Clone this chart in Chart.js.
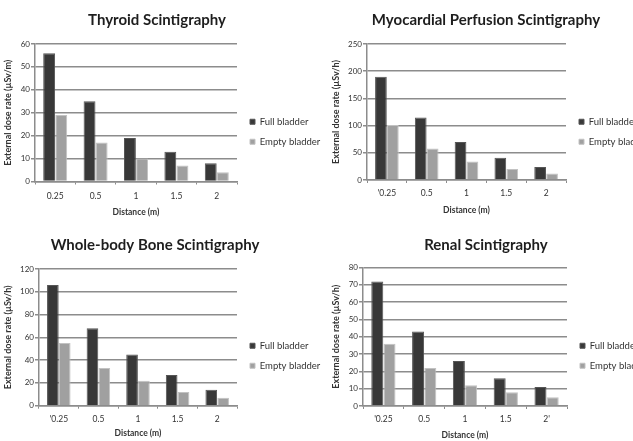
<!DOCTYPE html>
<html><head><meta charset="utf-8">
<script src="https://cdn.jsdelivr.net/npm/chart.js@4.4.1/dist/chart.umd.min.js"></script>
<style>
html,body{margin:0;padding:0;background:#fff;overflow:hidden;width:633px;height:441px;position:relative}
canvas{position:absolute}
</style></head><body>
<canvas id="c1" width="322" height="220" style="left:0;top:0"></canvas>
<canvas id="c2" width="346" height="220" style="left:313px;top:0"></canvas>
<canvas id="c3" width="322" height="221" style="left:0;top:220px"></canvas>
<canvas id="c4" width="346" height="221" style="left:313px;top:220px"></canvas>
<script>
// ---- data ----
const seriesNames = ['Full bladder', 'Empty bladder'];
const thyroidLabels = ['0.25', '0.5', '1', '1.5', '2'];
const myoLabels = ["'0.25", '0.5', '1', '1.5', '2'];
const boneLabels = ["'0.25", '0.5', '1', '1.5', '2'];
const renalLabels = ["'0.25", '0.5', '1', '1.5', "2'"];
const thyroidFull = [56, 35, 19, 13, 8];
const thyroidEmpty = [29, 17, 10, 7, 4];
const myoFull = [190, 115, 70, 41, 24];
const myoEmpty = [101, 58, 34, 20, 12];
const boneFull = [106, 68, 45, 27, 14];
const boneEmpty = [55, 33, 22, 12, 7];
const renalFull = [72, 43, 26, 16, 11];
const renalEmpty = [36, 22, 12, 8, 5];
const titles = ['Thyroid Scintigraphy', 'Myocardial Perfusion Scintigraphy', 'Whole-body Bone Scintigraphy', 'Renal Scintigraphy'];
const yTitles = ['External dose rate (\u00b5Sv/m)', 'External dose rate (\u00b5Sv/h)', 'External dose rate (\u00b5Sv/h)', 'External dose rate (\u00b5Sv/h)'];
const xTitle = 'Distance (m)';

const FONT = 'Lato, "Liberation Sans", sans-serif';
const GRID = '#8c8c8c';

function makeChart(id, cfg) {
  const legendFix = {
    id: 'legendFix',
    beforeLayout(chart) {
      const lg = chart.legend;
      if (lg && !lg._fixed) {
        const f = lg.fit.bind(lg);
        lg.fit = function () { f(); this.width = cfg.legendW; };
        lg._fixed = true;
      }
    },
    afterLayout(chart) {
      const lg = chart.legend;
      const h = lg.bottom - lg.top;
      lg.top = cfg.legendTop;
      lg.bottom = cfg.legendTop + h;
      lg.left += cfg.legendDx;
      lg.right += cfg.legendDx;
      if (chart.titleBlock) {
        chart.titleBlock.right -= cfg.titleTrim;
      }
    }
  };
  return new Chart(document.getElementById(id), {
    type: 'bar',
    data: {
      labels: cfg.labels,
      datasets: [
        { label: seriesNames[0], data: cfg.full, backgroundColor: '#383838', borderColor: '#555555', borderWidth: 1 },
        { label: seriesNames[1], data: cfg.empty, backgroundColor: '#a0a0a0', borderColor: '#c2c2c2', borderWidth: 1 }
      ]
    },
    plugins: [legendFix],
    options: {
      responsive: false,
      animation: false,
      devicePixelRatio: 1,
      layout: { padding: { left: 0, right: 0, top: 0, bottom: 0 } },
      datasets: { bar: { categoryPercentage: 0.6, barPercentage: 0.98 } },
      plugins: {
        title: {
          display: true, text: cfg.title, color: '#1e1e1e',
          font: { family: FONT, size: 15, weight: 'bold' },
          padding: { top: cfg.tPadTop, bottom: cfg.tPadBot }
        },
        legend: {
          position: 'right', align: 'start',
          labels: {
            boxWidth: 5, boxHeight: 5, padding: 10.5, color: '#333',
            font: { family: FONT, size: 9.5 }
          }
        },
        tooltip: { enabled: false }
      },
      scales: {
        x: {
          grid: { display: true, drawOnChartArea: false, tickLength: 3, color: GRID, offset: true },
          border: { display: true, color: GRID, width: 1.5 },
          ticks: { color: '#333', font: { family: FONT, size: 8.5 }, padding: cfg.xTickPad },
          title: { display: true, text: xTitle, color: '#333', font: { family: FONT, size: 8.5, weight: 'bold' }, padding: { top: 0, bottom: cfg.xTitlePad } },
          afterFit(s) { s.height = cfg.xH; }
        },
        y: {
          min: 0, max: cfg.yMax,
          grid: { color: GRID, lineWidth: 1.5, tickLength: 4 },
          border: { display: true, color: GRID, width: 1.5 },
          ticks: { stepSize: cfg.yStep, color: '#333', font: { family: FONT, size: 8 }, padding: 1 },
          title: { display: true, text: cfg.yTitle, color: '#333', font: { family: FONT, size: 9, weight: 'bold' }, padding: { top: cfg.yTitlePad, bottom: 0 } },
          afterFit(s) { s.width = cfg.yW; }
        }
      }
    }
  });
}

makeChart('c1', { labels: thyroidLabels, full: thyroidFull, empty: thyroidEmpty, title: titles[0], yTitle: yTitles[0],
  yMax: 60, yStep: 10, yW: 35, legendW: 85, legendTop: 106.5, legendDx: 2.5, titleTrim: 8, tPadTop: 11, tPadBot: 15,
  xH: 38.5, xTickPad: 7, xTitlePad: 2.5, yTitlePad: 2.5 });
makeChart('c2', { labels: myoLabels, full: myoFull, empty: myoEmpty, title: titles[1], yTitle: yTitles[1],
  yMax: 250, yStep: 50, yW: 54, legendW: 93, legendTop: 106.5, legendDx: 2.5, titleTrim: 0, tPadTop: 11, tPadBot: 15,
  xH: 40, xTickPad: 5, xTitlePad: 4.5, yTitlePad: 17.5 });
makeChart('c3', { labels: boneLabels, full: boneFull, empty: boneEmpty, title: titles[2], yTitle: yTitles[2],
  yMax: 120, yStep: 20, yW: 39, legendW: 85, legendTop: 110.5, legendDx: 2.5, titleTrim: 12, tPadTop: 16, tPadBot: 15,
  xH: 35.3, xTickPad: 5, xTitlePad: 2.5, yTitlePad: 2.5 });
makeChart('c4', { labels: renalLabels, full: renalFull, empty: renalEmpty, title: titles[3], yTitle: yTitles[3],
  yMax: 80, yStep: 10, yW: 50, legendW: 92, legendTop: 110.5, legendDx: 2.5, titleTrim: 0, tPadTop: 16, tPadBot: 13.6,
  xH: 35, xTickPad: 5, xTitlePad: 0.5, yTitlePad: 17.5 });
</script>
</body></html>
